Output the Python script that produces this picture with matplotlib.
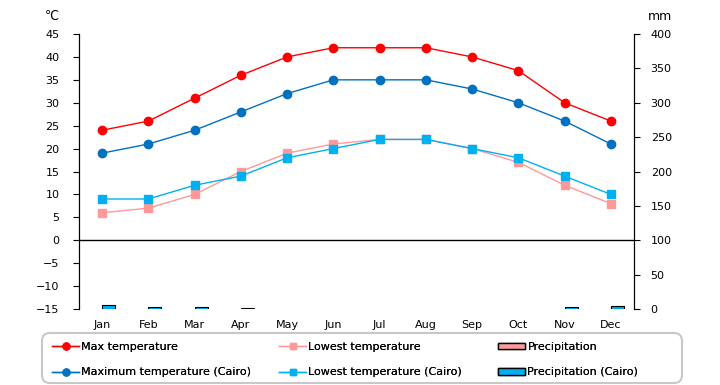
import numpy as np
import matplotlib.pyplot as plt
from matplotlib.patches import Patch, FancyBboxPatch
from matplotlib.lines import Line2D

months = ['Jan', 'Feb', 'Mar', 'Apr', 'May', 'Jun', 'Jul', 'Aug', 'Sep', 'Oct', 'Nov', 'Dec']
max_temp = [24, 26, 31, 36, 40, 42, 42, 42, 40, 37, 30, 26]
low_temp = [6, 7, 10, 15, 19, 21, 22, 22, 20, 17, 12, 8]
max_cairo = [19, 21, 24, 28, 32, 35, 35, 35, 33, 30, 26, 21]
low_cairo = [9, 9, 12, 14, 18, 20, 22, 22, 20, 18, 14, 10]
precip = [0, 0, 0, 0, 0, 0, 0, 0, 0, 0, 0, 0]
precip_cairo = [6, 3, 3, 1, 0, 0, 0, 0, 0, 0, 3, 5]

c_max = '#ff0000'
c_low = '#ff9999'
c_max_cairo = '#0070c0'
c_low_cairo = '#00b0f0'

plt.rcParams['font.family'] = ['DejaVu Sans']
plt.rcParams['font.size'] = 8

fig = plt.figure(figsize=(7.2, 3.85), dpi=100)
ax = fig.add_axes([79 / 720, 76 / 385, 555 / 720, 275 / 385])
x = np.arange(len(months))

# precipitation on the right axis, drawn behind the temperature lines
ax2 = ax.twinx()
bars1 = ax2.bar(x - 0.14, precip, width=0.28, color=c_low, edgecolor='black', linewidth=0.8)
bars2 = ax2.bar(x + 0.14, precip_cairo, width=0.28, color=c_low_cairo, edgecolor='black', linewidth=0.8)
for b in list(bars1) + list(bars2):
    if b.get_height() == 0:
        b.set_visible(False)  # no empty outline for dry months
ax2.set_ylim(0, 400)
ax2.set_yticks(range(0, 401, 50))

ax.axhline(0, color='black', lw=1, zorder=1)
ax.plot(x, max_temp, color=c_max, lw=1, marker='o', ms=6, zorder=3)
ax.plot(x, max_cairo, color=c_max_cairo, lw=1, marker='o', ms=6, zorder=3)
ax.plot(x, low_temp, color=c_low, lw=1, marker='s', ms=6, zorder=3)
ax.plot(x, low_cairo, color=c_low_cairo, lw=1, marker='s', ms=6, zorder=3)
ax.set_ylim(-15, 45)
ax.set_yticks(range(-15, 46, 5))
ax.set_xlim(-0.5, 11.5)
ax.set_xticks(x)
ax.set_xticklabels(months)
ax.tick_params(axis='x', length=0, pad=8)
ax.tick_params(axis='y', length=4, pad=10)
ax2.tick_params(axis='y', length=4, pad=8)

for a in (ax, ax2):
    a.spines['top'].set_visible(False)
    a.spines['bottom'].set_visible(False)
ax2.set_zorder(ax.get_zorder() - 1)
ax.patch.set_visible(False)
ax2.patch.set_facecolor('#ffffcc')

fig.text(52 / 720, 1 - 16 / 385, '℃', ha='center', va='center', fontsize=9)
fig.text(660 / 720, 1 - 16 / 385, 'mm', ha='center', va='center', fontsize=9)

# legend frame
box = FancyBboxPatch((42, 2), 640, 50, boxstyle='round,pad=0,rounding_size=8',
                     transform=None, facecolor='white', edgecolor='#c8c8c8', linewidth=1.5)
fig.patches.append(box)

columns = [
    (52, [Line2D([], [], color=c_max, lw=1, marker='o', ms=5),
          Line2D([], [], color=c_max_cairo, lw=1, marker='o', ms=5)],
     ['Max temperature', 'Maximum temperature (Cairo)']),
    (279, [Line2D([], [], color=c_low, lw=1, marker='s', ms=5),
           Line2D([], [], color=c_low_cairo, lw=1, marker='s', ms=5)],
     ['Lowest temperature', 'Lowest temperature (Cairo)']),
    (498, [Patch(facecolor=c_low, edgecolor='black', linewidth=1),
           Patch(facecolor=c_low_cairo, edgecolor='black', linewidth=1)],
     ['Precipitation', 'Precipitation (Cairo)']),
]
for xpos, hs, ls in columns:
    leg = fig.legend(hs, ls, loc='center left', bbox_to_anchor=(xpos / 720, 1 - 359.5 / 385),
                     frameon=False, handlelength=2.45, handleheight=0.5, handletextpad=0.2,
                     labelspacing=1.4, borderpad=0, borderaxespad=0, fontsize=8)
    fig.add_artist(leg)

fig.savefig('out.png', dpi=100)
